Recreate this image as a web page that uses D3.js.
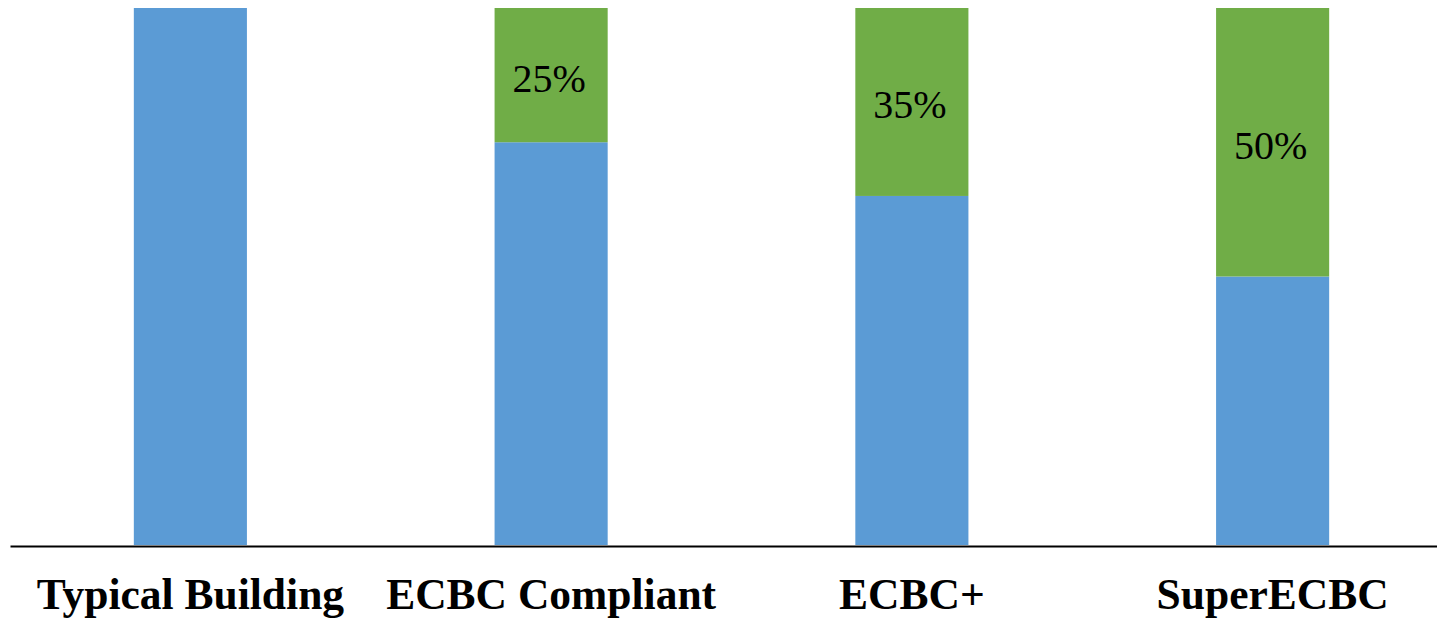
<!DOCTYPE html>
<html>
<head>
<meta charset="utf-8">
<script src="https://cdn.jsdelivr.net/npm/d3@7"></script>
<style>
  html, body { margin: 0; padding: 0; background: #fff; }
  svg { display: block; }
</style>
</head>
<body>
<svg id="chart" width="1437" height="619"></svg>
<script>
const categories = ["Typical Building", "ECBC Compliant", "ECBC+", "SuperECBC"];
const consumption = [100, 75, 65, 50];
const savings = [0, 25, 35, 50];
const savingLabels = ["", "25%", "35%", "50%"];

const svg = d3.select("#chart");
const baseY = 545, topY = 8;

const x = d3.scaleBand().domain(categories).range([10, 1453]).padding(0);
const y = d3.scaleLinear().domain([0, 100]).range([baseY, topY]);
const barW = x.bandwidth() * 0.3135;

const rows = categories.map((c, i) => ({ c, base: consumption[i], save: savings[i], label: savingLabels[i] }));

const g = svg.append("g");

g.selectAll("rect.base").data(rows).join("rect")
  .attr("class", "base")
  .attr("x", d => x(d.c) + x.bandwidth() / 2 - barW / 2)
  .attr("width", barW)
  .attr("y", d => y(d.base))
  .attr("height", d => y(0) - y(d.base))
  .attr("fill", "#5B9BD5");

g.selectAll("rect.save").data(rows.filter(d => d.save > 0)).join("rect")
  .attr("class", "save")
  .attr("x", d => x(d.c) + x.bandwidth() / 2 - barW / 2)
  .attr("width", barW)
  .attr("y", d => y(d.base + d.save))
  .attr("height", d => y(d.base) - y(d.base + d.save))
  .attr("fill", "#70AD47");

g.selectAll("text.pct").data(rows.filter(d => d.save > 0)).join("text")
  .attr("class", "pct")
  .attr("x", d => x(d.c) + x.bandwidth() / 2 - 2)
  .attr("y", d => (y(d.base) + y(d.base + d.save)) / 2 + 3)
  .attr("text-anchor", "middle")
  .attr("dominant-baseline", "central")
  .attr("font-family", "'Liberation Serif', 'Times New Roman', serif")
  .attr("font-size", 40)
  .attr("fill", "#000")
  .text(d => d.label);

const axis = d3.axisBottom(x).tickSize(0).tickSizeOuter(0).tickPadding(32);
const ax = svg.append("g").attr("transform", `translate(0,${baseY + 1})`).call(axis);
ax.select(".domain").attr("stroke", "#000").attr("stroke-width", 2);
ax.selectAll(".tick text")
  .attr("font-family", "'Liberation Serif', 'Times New Roman', serif")
  .attr("font-weight", "bold")
  .attr("font-size", 43.5)
  .attr("fill", "#000");
</script>
</body>
</html>
